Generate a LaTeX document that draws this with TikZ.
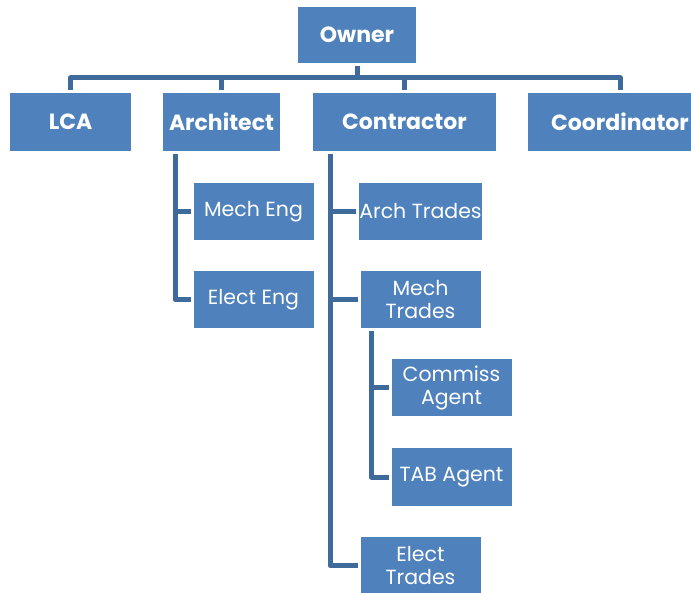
\documentclass[tikz,border=0pt]{standalone}
\usepackage{fontspec}
\setmainfont{Poppins}
\usetikzlibrary{positioning}

\definecolor{boxblue}{HTML}{4F81BD}
\definecolor{lineblue}{HTML}{3E6A9C}

\tikzset{
    unit/.style = {fill=boxblue, text=white, align=center, inner sep=0pt, outer sep=3pt,
                   font=\fontsize{20.5}{23}\selectfont},
    headunit/.style = {unit, minimum height=58pt, font=\bfseries\fontsize{22}{24}\selectfont},
    subunit/.style = {unit, minimum width=120pt, minimum height=57pt},
    link/.style = {draw=lineblue, line width=5pt, line join=round}
}

\begin{document}
\begin{tikzpicture}[x=1pt, y=-1pt, auto]
        \useasboundingbox (0,0) rectangle (691,593);

        \node (Owner) [headunit, minimum width=118pt, minimum height=56pt] at (357,35) {Owner};
        \coordinate (Bus) at (357,78);

        \node (LCA) [headunit, minimum width=121pt] at (70.5,122) {LCA};
        \node (Architect) [headunit, minimum width=117pt] at (221.5,122) {Architect};
        \node (Contractor) [headunit, minimum width=183pt] at (404.5,122) {Contractor};
        \node (Coordinator) [headunit, minimum width=184pt] at (620,122) {Coordinator};

        \node (MechEng) [subunit, node distance = 89.5pt, below of = Architect, xshift=32pt] {Mech Eng};
        \node (ElectEng) [subunit, node distance = 88pt, below of = MechEng] {Elect Eng};

        \node (ArchTrades) [subunit, node distance = 89.5pt, below of = Contractor, xshift=16pt] {Arch Trades};
        \node (MechTrades) [subunit, node distance = 88pt, below of = ArchTrades] {Mech\\Trades};
        \node (CommissAgent) [subunit, node distance = 88.5pt, below of = MechTrades, xshift=31pt] {Commiss\\Agent};
        \node (TABAgent) [subunit, node distance = 89pt, below of = CommissAgent] {TAB Agent};
        \node (ElectTrades) [subunit, node distance = 266pt, below of = MechTrades] {Elect\\Trades};

        \draw[link] (Owner) -- (Bus);
        \draw[link] (LCA) |- (Bus) -| (Coordinator);
        \draw[link] (Architect) |- (Bus);
        \draw[link] (Contractor) |- (Bus);

        \draw[link] ([xshift=15pt]Architect.south west) |- (MechEng);
        \draw[link] ([xshift=15pt]Architect.south west) |- (ElectEng);

        \draw[link] ([xshift=20pt]Contractor.south west) |- (ArchTrades);
        \draw[link] ([xshift=20pt]Contractor.south west) |- (MechTrades);
        \draw[link] ([xshift=20pt]Contractor.south west) |- (ElectTrades);

        \draw[link] ([xshift=14pt]MechTrades.south west) |- (CommissAgent);
        \draw[link] ([xshift=14pt]MechTrades.south west) |- (TABAgent);
    \end{tikzpicture}
\end{document}
